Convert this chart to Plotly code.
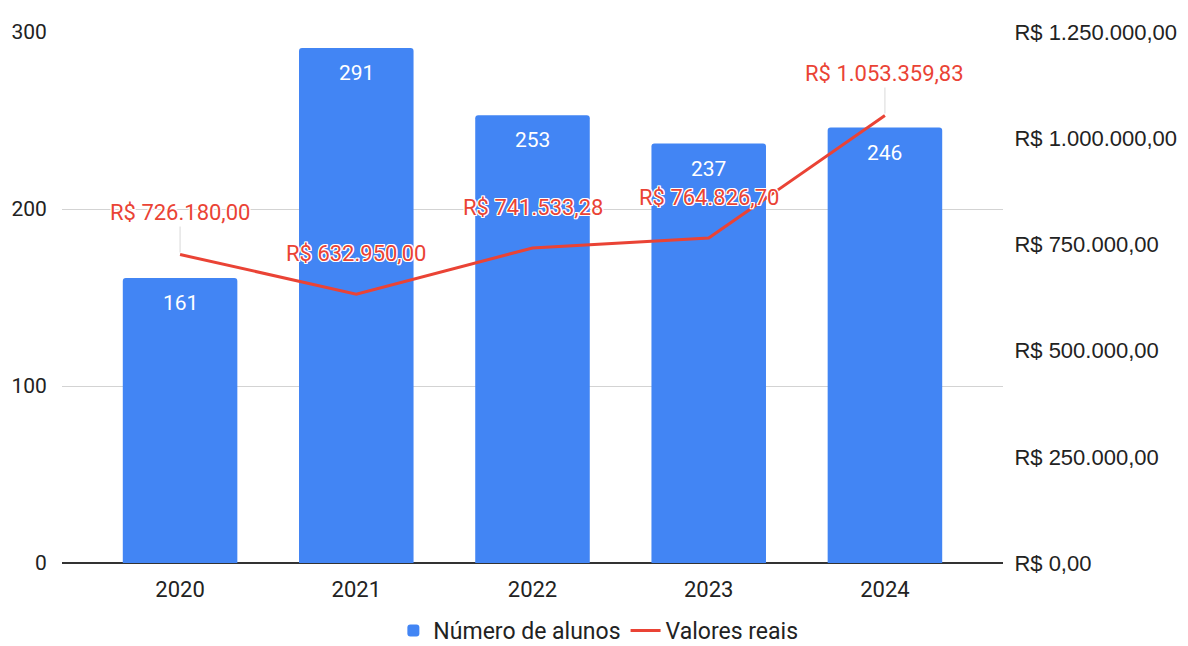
import plotly.graph_objects as go

anos = ["2020", "2021", "2022", "2023", "2024"]
alunos = [161, 291, 253, 237, 246]
valores = [726180.00, 632950.00, 741533.28, 764826.70, 1053359.83]
valores_txt = ["R$ 726.180,00", "R$ 632.950,00", "R$ 741.533,28", "R$ 764.826,70", "R$ 1.053.359,83"]
leader = [True, False, False, False, True]
left_ticks = [0, 100, 200, 300]
right_ticks = [0, 250000, 500000, 750000, 1000000, 1250000]
right_tick_txt = ["R$ 0,00", "R$ 250.000,00", "R$ 500.000,00", "R$ 750.000,00",
                  "R$ 1.000.000,00", "R$ 1.250.000,00"]

BLUE = "#4285F4"
RED = "#EA4335"
FONT = "Roboto"
TXT = "#222222"
CLEAR = "rgba(0,0,0,0)"
HALO = ("1px 0 0 #fff, -1px 0 0 #fff, 0 1px 0 #fff, 0 -1px 0 #fff, "
        "1px 1px 0 #fff, -1px -1px 0 #fff, 1px -1px 0 #fff, -1px 1px 0 #fff")

fig = go.Figure()
fig.add_trace(go.Bar(
    x=anos, y=alunos, name="Número de alunos", marker=dict(color=BLUE, line=dict(width=0)),
    width=0.65, yaxis="y",
))
fig.add_trace(go.Scatter(
    x=anos, y=valores, name="Valores reais", mode="lines",
    line=dict(color=RED, width=3), yaxis="y2",
))

ann = []
for i, v in enumerate(alunos):
    ann.append(dict(x=i, y=v, xref="x", yref="y", text=str(v), showarrow=False,
                    yshift=-25, font=dict(family=FONT, size=21, color="white")))
for i, (v, t, l) in enumerate(zip(valores, valores_txt, leader)):
    if l:
        ann.append(dict(x=i, y=v, xref="x", yref="y2", text=t, showarrow=True,
                        arrowhead=0, arrowwidth=1, arrowcolor="#d9d9d9", ax=0, ay=-42,
                        standoff=2,
                        font=dict(family=FONT, size=22, color=RED, shadow=HALO)))
    else:
        ann.append(dict(x=i, y=v, xref="x", yref="y2", text=t, showarrow=False,
                        yshift=41,
                        font=dict(family=FONT, size=22, color=RED, shadow=HALO)))

fig.update_layout(
    width=1180, height=638,
    margin=dict(l=54, r=185, t=24, b=83, autoexpand=False),
    plot_bgcolor="white", paper_bgcolor="white",
    font=dict(family=FONT, size=22, color=TXT),
    barcornerradius=3,
    xaxis=dict(type="category", range=[-0.67, 4.67], showgrid=False, showline=False,
               ticks="outside", ticklen=7, tickcolor=CLEAR,
               tickfont=dict(size=22, color=TXT)),
    yaxis=dict(range=[0, 300], tickvals=left_ticks, showgrid=True, gridcolor="#d3d3d3",
               gridwidth=1, zeroline=True, zerolinecolor="#333333", zerolinewidth=2,
               ticks="outside", ticklen=10, tickcolor=CLEAR,
               tickfont=dict(size=21, color=TXT)),
    yaxis2=dict(range=[0, 1250000], overlaying="y", side="right", showgrid=False,
                zeroline=False, tickvals=right_ticks, ticktext=right_tick_txt,
                ticks="outside", ticklen=6, tickcolor=CLEAR,
                tickfont=dict(family="Liberation Sans", size=22, color=TXT)),
    legend=dict(orientation="h", x=0.57, xanchor="center",
                y=-0.127, yanchor="middle",
                font=dict(size=23, color=TXT)),
    annotations=ann,
)

fig.write_html("out.html")
